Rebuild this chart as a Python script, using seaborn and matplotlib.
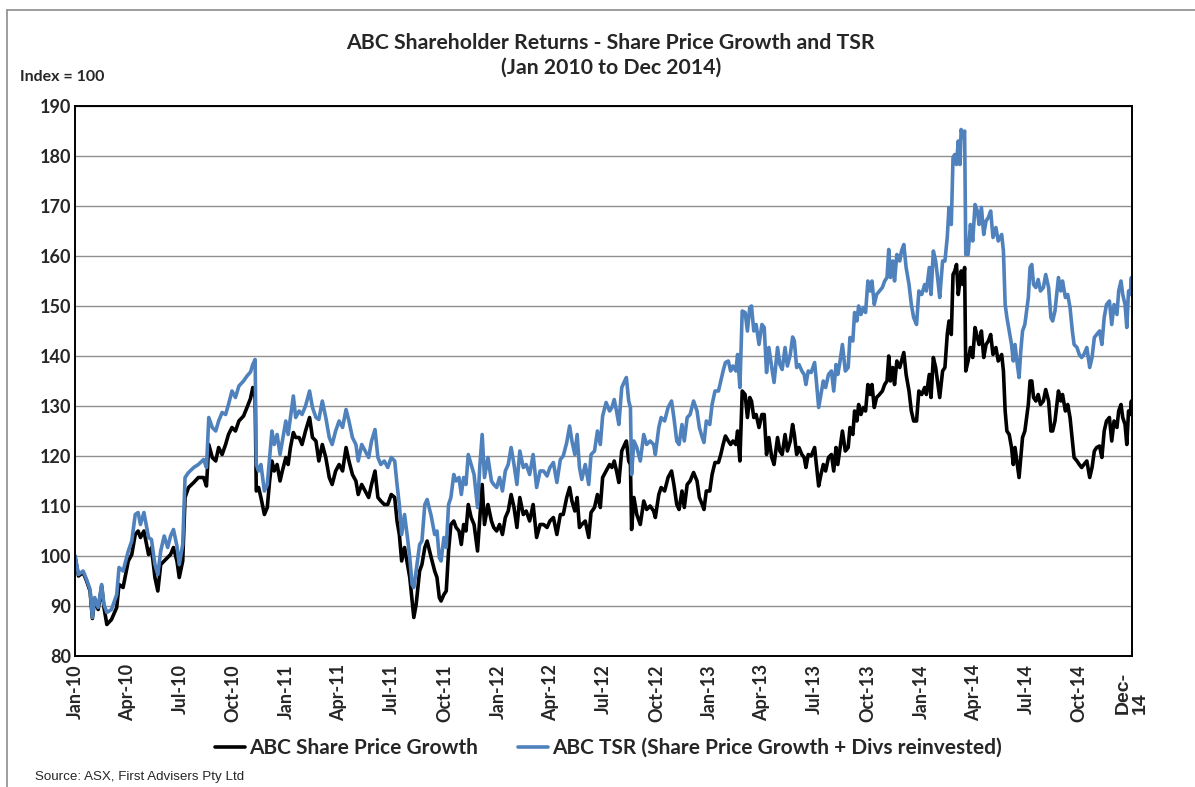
import pandas as pd
import seaborn as sns
import matplotlib.pyplot as plt
import matplotlib.transforms as mtransforms
from matplotlib.lines import Line2D

# values (index, Jan 2010 = 100)
dates = [
    # 2010
    "2010-01-01", "2010-01-07", "2010-01-15", "2010-01-21", "2010-01-27", "2010-01-31",
    "2010-02-04", "2010-02-10", "2010-02-16", "2010-02-20", "2010-02-25", "2010-03-05",
    "2010-03-14", "2010-03-18", "2010-03-25", "2010-04-03", "2010-04-09", "2010-04-15",
    "2010-04-20", "2010-04-24", "2010-04-30", "2010-05-08", "2010-05-13", "2010-05-19",
    "2010-05-24", "2010-05-29", "2010-06-04", "2010-06-10", "2010-06-15", "2010-06-20",
    "2010-06-26", "2010-06-30", "2010-07-06", "2010-07-10", "2010-07-16", "2010-07-25",
    "2010-08-02", "2010-08-11", "2010-08-16", "2010-08-20", "2010-08-26", "2010-09-01",
    "2010-09-06", "2010-09-12", "2010-09-18", "2010-09-23", "2010-09-29", "2010-10-05",
    "2010-10-11", "2010-10-19", "2010-10-25", "2010-10-31", "2010-11-04", "2010-11-08",
    "2010-11-10", "2010-11-14", "2010-11-18", "2010-11-24", "2010-11-29", "2010-12-03",
    "2010-12-07", "2010-12-11", "2010-12-16", "2010-12-21", "2010-12-25", "2010-12-31",
    # 2011
    "2011-01-04", "2011-01-08", "2011-01-13", "2011-01-17", "2011-01-23", "2011-01-28",
    "2011-02-03", "2011-02-10", "2011-02-15", "2011-02-21", "2011-02-26", "2011-03-04",
    "2011-03-10", "2011-03-16", "2011-03-21", "2011-03-27", "2011-04-02", "2011-04-08",
    "2011-04-14", "2011-04-19", "2011-04-25", "2011-05-01", "2011-05-05", "2011-05-11",
    "2011-05-17", "2011-05-23", "2011-05-28", "2011-06-03", "2011-06-08", "2011-06-13",
    "2011-06-19", "2011-06-25", "2011-07-01", "2011-07-07", "2011-07-11", "2011-07-15",
    "2011-07-19", "2011-07-24", "2011-07-29", "2011-08-02", "2011-08-06", "2011-08-09",
    "2011-08-13", "2011-08-19", "2011-08-23", "2011-08-28", "2011-09-01", "2011-09-08",
    "2011-09-14", "2011-09-18", "2011-09-22", "2011-09-25", "2011-09-30", "2011-10-04",
    "2011-10-08", "2011-10-12", "2011-10-17", "2011-10-21", "2011-10-26", "2011-10-30",
    "2011-11-03", "2011-11-07", "2011-11-11", "2011-11-16", "2011-11-21", "2011-11-27",
    "2011-12-01", "2011-12-05", "2011-12-09", "2011-12-15", "2011-12-21", "2011-12-25",
    "2011-12-30",
    # 2012
    "2012-01-04", "2012-01-09", "2012-01-14", "2012-01-19", "2012-01-24", "2012-01-29",
    "2012-02-03", "2012-02-08", "2012-02-14", "2012-02-19", "2012-02-25", "2012-03-02",
    "2012-03-08", "2012-03-14", "2012-03-20", "2012-03-26", "2012-03-31", "2012-04-06",
    "2012-04-12", "2012-04-18", "2012-04-23", "2012-04-29", "2012-05-04", "2012-05-08",
    "2012-05-13", "2012-05-17", "2012-05-21", "2012-05-25", "2012-05-31", "2012-06-06",
    "2012-06-10", "2012-06-16", "2012-06-21", "2012-06-26", "2012-06-30", "2012-07-06",
    "2012-07-12", "2012-07-16", "2012-07-20", "2012-07-24", "2012-07-28", "2012-08-02",
    "2012-08-07", "2012-08-10", "2012-08-14", "2012-08-17", "2012-08-19", "2012-08-23",
    "2012-08-28", "2012-09-03", "2012-09-09", "2012-09-14", "2012-09-20", "2012-09-26",
    "2012-09-29", "2012-10-05", "2012-10-09", "2012-10-15", "2012-10-21", "2012-10-27",
    "2012-10-31", "2012-11-05", "2012-11-09", "2012-11-14", "2012-11-18", "2012-11-23",
    "2012-11-28", "2012-12-04", "2012-12-10", "2012-12-14", "2012-12-19", "2012-12-22",
    "2012-12-26",
    # 2013
    "2013-01-01", "2013-01-05", "2013-01-10", "2013-01-16", "2013-01-20", "2013-01-24",
    "2013-01-28", "2013-02-02", "2013-02-06", "2013-02-10", "2013-02-15", "2013-02-18",
    "2013-02-22", "2013-02-26", "2013-03-03", "2013-03-07", "2013-03-11", "2013-03-14",
    "2013-03-18", "2013-03-22", "2013-03-27", "2013-04-01", "2013-04-05", "2013-04-09",
    "2013-04-13", "2013-04-18", "2013-04-22", "2013-04-28", "2013-05-02", "2013-05-06",
    "2013-05-11", "2013-05-15", "2013-05-20", "2013-05-24", "2013-05-27", "2013-05-31",
    "2013-06-04", "2013-06-09", "2013-06-13", "2013-06-16", "2013-06-20", "2013-06-25",
    "2013-07-01", "2013-07-04", "2013-07-08", "2013-07-12", "2013-07-16", "2013-07-20",
    "2013-07-25", "2013-07-30", "2013-08-03", "2013-08-07", "2013-08-10", "2013-08-14",
    "2013-08-18", "2013-08-23", "2013-08-28", "2013-08-31", "2013-09-05", "2013-09-08",
    "2013-09-12", "2013-09-15", "2013-09-19", "2013-09-23", "2013-09-27", "2013-10-01",
    "2013-10-05", "2013-10-08", "2013-10-12", "2013-10-16", "2013-10-21", "2013-10-26",
    "2013-10-30", "2013-11-03", "2013-11-06", "2013-11-09", "2013-11-13", "2013-11-16",
    "2013-11-20", "2013-11-25", "2013-11-28", "2013-12-02", "2013-12-06", "2013-12-11",
    "2013-12-15", "2013-12-19", "2013-12-24", "2013-12-28",
    # 2014
    "2014-01-02", "2014-01-07", "2014-01-10", "2014-01-15", "2014-01-18", "2014-01-22",
    "2014-01-26", "2014-01-30", "2014-02-02", "2014-02-07", "2014-02-11", "2014-02-15",
    "2014-02-18", "2014-02-22", "2014-02-25", "2014-02-28", "2014-03-03", "2014-03-06",
    "2014-03-09", "2014-03-11", "2014-03-14", "2014-03-17", "2014-03-19", "2014-03-23",
    "2014-03-27", "2014-03-31", "2014-04-04", "2014-04-08", "2014-04-11", "2014-04-15",
    "2014-04-19", "2014-04-23", "2014-04-27", "2014-05-01", "2014-05-05", "2014-05-10",
    "2014-05-14", "2014-05-20", "2014-05-23", "2014-05-26", "2014-05-29", "2014-06-02",
    "2014-06-06", "2014-06-09", "2014-06-12", "2014-06-16", "2014-06-19", "2014-06-22",
    "2014-06-25", "2014-06-29", "2014-07-02", "2014-07-05", "2014-07-08", "2014-07-11",
    "2014-07-14", "2014-07-18", "2014-07-22", "2014-07-26", "2014-07-31", "2014-08-04",
    "2014-08-09", "2014-08-13", "2014-08-16", "2014-08-20", "2014-08-26", "2014-08-30",
    "2014-09-02", "2014-09-07", "2014-09-11", "2014-09-15", "2014-09-19", "2014-09-22",
    "2014-09-27", "2014-10-01", "2014-10-05", "2014-10-09", "2014-10-14", "2014-10-19",
    "2014-10-23", "2014-10-27", "2014-10-31", "2014-11-05", "2014-11-09", "2014-11-13",
    "2014-11-17", "2014-11-22", "2014-11-26", "2014-11-30", "2014-12-05", "2014-12-08",
    "2014-12-12", "2014-12-15", "2014-12-19", "2014-12-22", "2014-12-25", "2014-12-28",
    "2014-12-30", "2014-12-31",
]

price = [
    # 2010
    100.0, 96.0, 96.7, 95.0, 93.0, 87.5, 91.3, 89.3, 94.0, 89.7, 86.3, 87.3,
    89.7, 94.3, 93.7, 99.0, 100.3, 104.3, 105.0, 103.7, 105.0, 100.3, 101.7, 95.7,
    93.0, 98.3, 99.0, 99.7, 100.3, 101.7, 99.0, 95.7, 99.0, 111.7, 113.7, 114.7,
    115.7, 115.7, 114.0, 122.3, 119.7, 119.0, 121.7, 120.3, 122.3, 124.3, 125.7, 125.0,
    127.0, 128.0, 129.7, 131.5, 133.7, 131.7, 113.0, 113.7, 111.7, 108.3, 109.7, 115.0,
    119.0, 117.0, 118.3, 115.0, 117.0, 119.7,
    # 2011
    118.3, 121.7, 124.7, 123.7, 123.7, 122.3, 125.0, 127.7, 123.7, 123.0, 119.0, 122.3,
    119.7, 115.7, 114.3, 117.0, 118.3, 117.0, 121.7, 119.0, 116.3, 115.0, 112.3, 114.3,
    113.0, 111.7, 114.3, 117.0, 111.7, 111.0, 110.3, 110.3, 112.3, 111.7, 107.0, 104.3,
    99.0, 101.7, 98.3, 95.7, 91.0, 87.7, 90.3, 97.0, 98.3, 101.7, 103.0, 99.7,
    97.0, 95.7, 91.7, 91.0, 92.3, 93.0, 101.0, 106.3, 107.0, 105.7, 105.0, 102.3,
    106.3, 105.0, 110.3, 107.7, 106.3, 101.0, 107.7, 114.3, 106.3, 110.3, 107.0, 105.7,
    105.0,
    # 2012
    106.3, 104.3, 107.7, 109.0, 112.3, 109.7, 105.7, 111.7, 108.3, 109.0, 107.0, 110.3,
    103.7, 106.3, 106.3, 105.7, 107.0, 107.7, 104.3, 108.3, 108.3, 111.7, 113.7, 111.0,
    109.0, 111.7, 105.7, 106.3, 107.0, 103.7, 108.7, 109.7, 112.3, 109.7, 115.7, 117.0,
    118.3, 117.7, 119.0, 117.0, 114.7, 121.0, 122.3, 123.0, 119.0, 118.3, 105.3, 111.7,
    108.3, 106.3, 111.0, 109.3, 110.0, 109.0, 107.7, 112.3, 113.7, 113.0, 115.7, 117.0,
    114.3, 110.3, 109.3, 113.0, 109.7, 114.3, 115.0, 116.7, 115.0, 111.7, 110.3, 109.3,
    113.0,
    # 2013
    113.0, 116.3, 118.7, 118.7, 120.3, 122.3, 124.0, 123.0, 122.3, 123.0, 122.3, 125.0,
    119.0, 133.0, 132.3, 127.7, 131.7, 131.0, 127.7, 128.3, 125.7, 128.3, 128.3, 120.3,
    123.7, 119.7, 118.3, 123.7, 121.0, 120.3, 124.3, 121.0, 123.0, 126.3, 124.3, 120.3,
    121.7, 120.3, 119.7, 117.7, 120.3, 120.0, 121.7, 118.3, 114.0, 116.3, 118.3, 117.0,
    119.7, 120.3, 117.0, 121.7, 118.3, 121.7, 125.0, 121.0, 121.7, 125.7, 124.3, 129.0,
    127.0, 130.3, 128.3, 129.7, 129.0, 134.3, 132.3, 134.3, 129.7, 131.7, 132.3, 133.0,
    134.3, 135.0, 140.0, 135.0, 137.7, 134.3, 139.0, 137.7, 139.0, 140.7, 136.3, 133.0,
    129.0, 127.0, 127.0, 133.0,
    # 2014
    132.3, 133.7, 132.3, 136.3, 131.7, 139.7, 137.7, 134.3, 131.7, 137.0, 137.7, 144.3,
    147.0, 144.3, 156.3, 157.0, 158.3, 152.3, 155.0, 157.0, 154.3, 157.7, 137.0, 139.0,
    141.7, 139.7, 145.7, 143.7, 142.3, 145.0, 139.7, 142.3, 143.0, 144.3, 140.3, 141.7,
    139.0, 140.3, 137.0, 129.0, 125.0, 124.3, 121.7, 118.3, 121.7, 118.3, 115.7, 119.7,
    123.7, 125.0, 127.7, 130.3, 135.0, 135.0, 131.7, 131.0, 132.3, 130.3, 131.0, 133.3,
    131.0, 125.0, 125.0, 127.0, 133.0, 131.0, 132.3, 129.0, 130.3, 127.7, 123.0, 119.7,
    119.0, 118.3, 117.7, 118.3, 119.0, 115.7, 117.7, 121.0, 121.7, 122.0, 119.7, 125.0,
    127.0, 127.7, 123.0, 127.0, 125.7, 129.0, 130.3, 127.7, 126.3, 122.3, 129.0, 128.3,
    131.0, 129.0,
]

tsr = [
    # 2010
    100.0, 96.3, 97.0, 95.3, 93.3, 87.7, 91.7, 89.7, 94.3, 90.3, 88.7, 89.3,
    92.3, 97.7, 97.0, 101.0, 103.0, 108.3, 108.7, 106.3, 108.7, 103.7, 103.3, 98.3,
    96.3, 101.0, 104.0, 101.7, 104.0, 105.3, 102.0, 98.3, 102.3, 115.7, 116.7, 117.7,
    118.3, 119.3, 117.7, 127.7, 125.7, 125.0, 127.0, 128.7, 128.3, 130.3, 133.0, 131.7,
    134.0, 135.0, 136.0, 136.8, 138.3, 139.3, 118.3, 117.0, 118.3, 113.0, 114.3, 119.7,
    125.0, 122.3, 124.3, 120.3, 123.0, 127.0,
    # 2011
    124.3, 127.7, 132.0, 127.7, 129.0, 128.3, 130.0, 133.0, 129.7, 127.7, 127.3, 131.0,
    127.7, 123.7, 122.3, 125.0, 127.0, 125.7, 129.3, 127.0, 123.7, 122.3, 119.0, 122.3,
    121.0, 119.7, 123.0, 125.3, 119.7, 118.3, 119.0, 117.7, 119.7, 119.0, 114.3, 110.3,
    104.3, 108.3, 103.7, 99.7, 94.3, 93.7, 97.0, 102.3, 103.0, 110.3, 111.3, 108.0,
    104.3, 105.0, 99.7, 99.0, 103.7, 101.7, 110.3, 111.7, 116.3, 115.0, 115.7, 112.3,
    115.7, 114.3, 120.3, 118.3, 116.3, 109.7, 118.0, 124.3, 115.7, 119.7, 115.0, 114.3,
    113.7,
    # 2012
    115.7, 113.0, 117.0, 118.3, 121.7, 118.3, 114.3, 121.0, 117.7, 118.3, 116.3, 120.3,
    113.7, 117.0, 117.0, 116.0, 117.7, 118.7, 114.7, 119.3, 120.0, 122.7, 126.0, 123.0,
    120.3, 124.3, 117.7, 115.3, 118.3, 114.3, 120.3, 121.0, 125.0, 122.3, 128.0, 130.7,
    129.0, 129.7, 131.3, 129.0, 126.3, 133.7, 135.0, 135.7, 131.0, 129.7, 116.3, 123.0,
    121.7, 119.0, 124.3, 122.3, 123.0, 122.3, 120.3, 125.7, 127.7, 127.0, 129.7, 131.0,
    127.7, 123.0, 122.3, 126.3, 123.0, 127.7, 128.3, 131.0, 129.0, 125.7, 123.7, 122.7,
    127.0,
    # 2013
    126.3, 130.3, 133.0, 133.0, 135.0, 137.0, 138.7, 139.0, 137.0, 138.0, 137.0, 140.3,
    133.7, 149.0, 148.7, 145.0, 149.7, 150.0, 145.0, 146.3, 142.3, 146.3, 145.7, 136.7,
    141.7, 137.7, 134.7, 141.7, 138.3, 137.3, 141.7, 138.0, 140.3, 143.8, 143.0, 137.7,
    138.3, 137.0, 136.3, 134.3, 137.0, 136.7, 138.7, 135.0, 129.7, 132.3, 135.0, 133.7,
    136.3, 137.0, 133.0, 138.3, 136.3, 139.0, 142.3, 137.0, 137.7, 143.7, 143.0, 148.7,
    147.0, 150.0, 148.3, 149.7, 148.7, 155.0, 153.0, 155.0, 150.3, 152.3, 153.0, 153.7,
    155.0, 155.7, 161.3, 155.7, 159.0, 155.0, 160.3, 159.0, 161.0, 162.3, 157.7, 154.3,
    150.3, 147.7, 146.3, 153.0,
    # 2014
    152.3, 154.3, 153.0, 157.7, 152.3, 161.0, 159.0, 155.0, 151.7, 159.0, 159.0, 163.7,
    169.7, 166.3, 179.7, 180.3, 178.3, 183.0, 178.3, 185.3, 183.7, 185.0, 160.3, 160.3,
    166.3, 163.0, 170.3, 169.0, 166.3, 169.7, 164.3, 167.0, 167.7, 169.0, 163.7, 165.7,
    163.0, 164.3, 161.0, 150.3, 147.7, 145.0, 142.3, 139.0, 142.3, 138.3, 135.7, 141.0,
    145.0, 146.3, 149.0, 151.7, 157.7, 158.3, 154.3, 153.7, 155.3, 153.0, 153.7, 156.3,
    153.7, 147.7, 147.0, 149.0, 155.7, 153.0, 155.0, 151.7, 152.3, 149.7, 145.0, 142.3,
    141.7, 140.3, 139.7, 140.3, 141.7, 137.7, 139.7, 143.7, 144.3, 145.0, 142.3, 147.7,
    150.3, 151.0, 146.3, 150.3, 148.3, 153.0, 155.0, 152.3, 150.3, 145.7, 153.0, 152.3,
    155.7, 153.0,
]

quarter_ticks = pd.date_range("2010-01-01", "2014-10-01", freq="QS")
y_ticks = list(range(80, 191, 10))

price_label = "ABC Share Price Growth"
tsr_label = "ABC TSR (Share Price Growth + Divs reinvested)"

df = pd.DataFrame({"date": pd.to_datetime(dates), "price": price, "tsr": tsr})

sns.set_style("white")
plt.rcParams["font.family"] = ["Lato", "DejaVu Sans"]

W, H = 1195, 787
fig = plt.figure(figsize=(W / 100, H / 100), dpi=100)
ax = fig.add_axes([75 / W, 1 - 656 / H, (1132 - 75) / W, 550 / H])

sns.lineplot(data=df, x="date", y="price", ax=ax, color="black", lw=2.6, label=price_label)
sns.lineplot(data=df, x="date", y="tsr", ax=ax, color="#4F81BD", lw=2.6, label=tsr_label)

ax.set_xlim(pd.Timestamp("2010-01-01"), pd.Timestamp("2014-12-31"))
ax.set_ylim(80, 190)
ax.set_yticks(y_ticks)
ax.set_xticks(quarter_ticks)
ax.set_xticklabels([d.strftime("%b-%y") for d in quarter_ticks], rotation=90)
ax.set_xlabel("")
ax.set_ylabel("")
ax.tick_params(axis="both", length=0, labelsize=13)
ax.tick_params(axis="x", pad=6)
ax.tick_params(axis="y", pad=3)
for lbl in ax.get_xticklabels() + ax.get_yticklabels():
    lbl.set_fontweight("bold")

ax.yaxis.grid(True, color="#8f8f8f", lw=1)
ax.xaxis.grid(False)
for side in ["left", "bottom", "top", "right"]:
    ax.spines[side].set_color("black")
    ax.spines[side].set_linewidth(1.4)

# last label sits at the end of the axis
trans = mtransforms.blended_transform_factory(ax.transData, ax.transAxes)
ax.text(pd.Timestamp("2014-12-31"), -0.029, "Dec-\n14", transform=trans, rotation=90,
        ha="center", va="top", multialignment="left", fontsize=14, fontweight="bold",
        family=["Liberation Sans", "DejaVu Sans"], linespacing=1.0)

ax.get_legend().remove()
handles, labels = ax.get_legend_handles_labels()
fig.legend(handles, labels, loc="center", bbox_to_anchor=(0.509, 1 - 748 / H), ncol=2,
           frameon=False, prop={"size": 15, "weight": "bold"}, handlelength=1.45,
           handletextpad=0.2, columnspacing=1.9)

fig.text(0.511, 1 - 55 / H, "ABC Shareholder Returns - Share Price Growth and TSR\n(Jan 2010 to Dec 2014)",
         ha="center", va="center", fontsize=15.3, fontweight="bold", linespacing=1.3)
fig.text(20 / W, 1 - 77 / H, "Index = 100", ha="left", va="center", fontsize=11.5, fontweight="bold")
fig.text(35 / W, 1 - 777 / H, "Source: ASX, First Advisers Pty Ltd", ha="left", va="center",
         fontsize=9.6, family=["Liberation Sans Narrow", "Liberation Sans", "DejaVu Sans"])

# chart area border
fig.add_artist(Line2D([7 / W, 7 / W], [0, 1 - 10 / H], transform=fig.transFigure, color="#8c8c8c", lw=1.2))
fig.add_artist(Line2D([7 / W, 1], [1 - 10 / H, 1 - 10 / H], transform=fig.transFigure, color="#8c8c8c", lw=1.2))

fig.savefig("out.png", dpi=100)
